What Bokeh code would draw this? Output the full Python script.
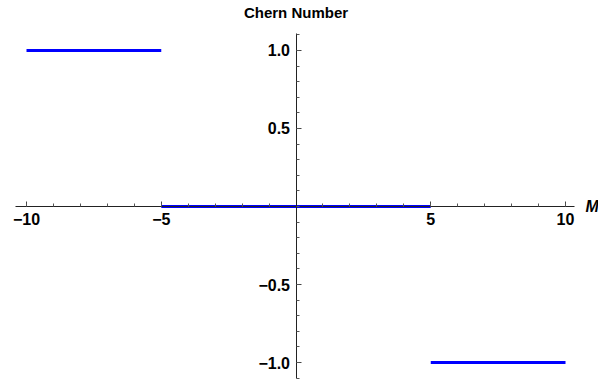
from bokeh.plotting import figure
from bokeh.models import FixedTicker, Label, ColumnDataSource, Range1d
from bokeh.embed import file_html
from bokeh.resources import INLINE

# Data: piecewise Chern number vs M
m_start = [-10, -5, 5]
m_end = [-5, 5, 10]
chern = [1, 0, -1]

# Ticks
x_ticks = [-10, -5, 5, 10]
x_tick_labels = ["\u221210", "\u22125", "5", "10"]
x_minor = [-10, -9, -8, -7, -6, -5, -4, -3, -2, -1, 0, 1, 2, 3, 4, 5, 6, 7, 8, 9, 10]
y_ticks = [-1.0, -0.5, 0.5, 1.0]
y_tick_labels = ["\u22121.0", "\u22120.5", "0.5", "1.0"]
y_minor = [-1.1, -1.0, -0.9, -0.8, -0.7, -0.6, -0.5, -0.4, -0.3, -0.2, -0.1, 0.0,
           0.1, 0.2, 0.3, 0.4, 0.5, 0.6, 0.7, 0.8, 0.9, 1.0, 1.1]

W, H = 598, 383
p = figure(width=W, height=H, output_backend="svg", toolbar_location=None,
           x_range=Range1d(-10.965, 11.224), y_range=Range1d(-1.1346, 1.3205),
           min_border=0, outline_line_color=None, title=None)
p.grid.visible = False
p.background_fill_color = "white"
p.border_fill_color = "white"

src = ColumnDataSource(dict(x0=m_start, x1=m_end, y=chern))
p.segment(x0="x0", y0="y", x1="x1", y1="y", source=src,
          line_color="#0000ff", line_width=3)

for ax in (p.xaxis[0], p.yaxis[0]):
    ax.fixed_location = 0
    ax.axis_line_color = "#222222"
    ax.axis_line_width = 1
    ax.major_tick_line_color = "#444444"
    ax.minor_tick_line_color = "#555555"
    ax.major_tick_in = 5
    ax.major_tick_out = 0
    ax.minor_tick_in = 3
    ax.minor_tick_out = 0
    ax.major_label_text_font = "Liberation Sans"
    ax.major_label_text_font_style = "bold"
    ax.major_label_text_font_size = "16px"
    ax.major_label_text_color = "black"

p.xaxis.ticker = FixedTicker(ticks=x_ticks, minor_ticks=x_minor)
p.yaxis.ticker = FixedTicker(ticks=y_ticks, minor_ticks=y_minor)
p.xaxis.major_label_overrides = {t: l for t, l in zip(x_ticks, x_tick_labels)}
p.yaxis.major_label_overrides = {t: l for t, l in zip(y_ticks, y_tick_labels)}
p.xaxis.major_label_standoff = 6
p.yaxis.major_label_standoff = 6
p.xaxis.bounds = (-10.408, 10.334)
p.yaxis.bounds = (-1.1026, 1.109)

p.add_layout(Label(x=0, y=H - 12, x_units="data", y_units="screen",
                   text="Chern Number", text_align="center", text_baseline="middle",
                   text_font="Liberation Sans", text_font_style="bold",
                   text_font_size="15px", text_color="black"))
p.add_layout(Label(x=585, y=0, x_units="screen", y_units="data",
                   text="M", text_align="left", text_baseline="middle",
                   text_font="Liberation Sans", text_font_style="bold italic",
                   text_font_size="16px", text_color="black"))

open("out.html", "w").write(file_html(p, INLINE))
